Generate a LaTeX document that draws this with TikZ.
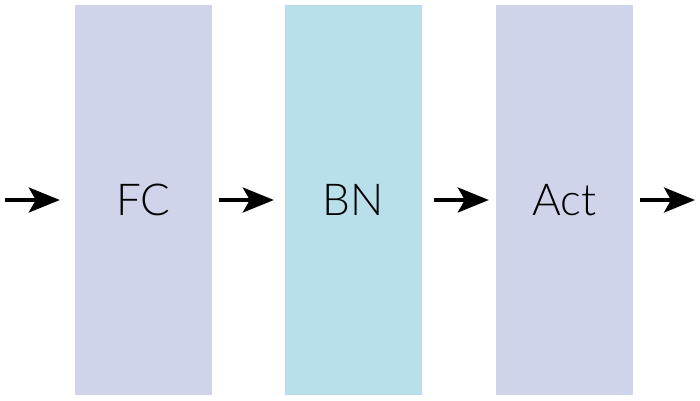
\documentclass[tikz,border=0pt]{standalone}
\usepackage{fontspec}
\setmainfont{Lato}[UprightFont={* Light}]
\usetikzlibrary{arrows.meta}
\definecolor{lav}{HTML}{D0D4EA}
\definecolor{lblue}{HTML}{B8DFEA}
\begin{document}
\begin{tikzpicture}[x=1pt,y=1pt,
  block/.style={minimum width=137pt,minimum height=389pt,inner sep=0pt,draw=none,font=\fontsize{44}{50}\selectfont},
  arr/.style={line width=3.5pt,-{Stealth[length=31pt,width=25pt,inset=7pt]}}]
\useasboundingbox (0,0) rectangle (700,400);
\node[block,fill=lav] (fc) at (143.5,200) {FC};
\node[block,fill=lblue] (bn) at (353.5,200) {BN};
\node[block,fill=lav] (act) at (564.5,200) {Act};
\coordinate (in) at (5,200);
\coordinate (out) at (695,200);
\draw[arr] (in) -- ([xshift=-15pt]fc.west);
\draw[arr] ([xshift=7pt]fc.east) -- ([xshift=-11pt]bn.west);
\draw[arr] ([xshift=12pt]bn.east) -- ([xshift=-7pt]act.west);
\draw[arr] ([xshift=7pt]act.east) -- (out);
\end{tikzpicture}
\end{document}
